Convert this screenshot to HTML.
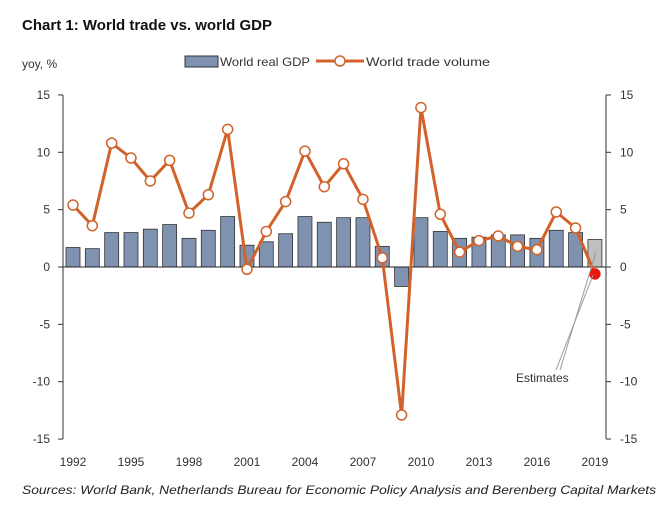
<!DOCTYPE html>
<html><head><meta charset="utf-8"><style>
body{margin:0;background:#fff;width:668px;height:514px;overflow:hidden;font-family:"Liberation Sans",sans-serif}
svg{position:absolute;left:0;top:0}
</style></head><body>
<svg width="668" height="514" id="c">
<text x="22" y="30" font-size="15" font-weight="bold" fill="#111" textLength="250" lengthAdjust="spacingAndGlyphs">Chart 1: World trade vs. world GDP</text>
<text x="22" y="68" font-size="12" fill="#333">yoy, %</text>
<g>
<rect x="185" y="56" width="33" height="11" fill="#7f93b0" stroke="#333"/>
<text x="220" y="66" font-size="12" fill="#333" textLength="90" lengthAdjust="spacingAndGlyphs">World real GDP</text>
<line x1="316" y1="61" x2="364" y2="61" stroke="#d2622a" stroke-width="3"/>
<circle cx="340" cy="61" r="5" fill="#fff" stroke="#d2622a" stroke-width="1.5"/>
<text x="366" y="66" font-size="12" fill="#333" textLength="124" lengthAdjust="spacingAndGlyphs">World trade volume</text>
</g>
<g id="plot"></g>
<text x="516" y="382" font-size="12" fill="#333">Estimates</text>
<line x1="556" y1="370" x2="593" y2="275" stroke="#999"/>
<line x1="560" y1="370" x2="596" y2="252" stroke="#999"/>
<text x="22" y="494" font-size="12" font-style="italic" fill="#222" textLength="634" lengthAdjust="spacingAndGlyphs">Sources: World Bank, Netherlands Bureau for Economic Policy Analysis and Berenberg Capital Markets</text>
</svg>
<script>
const years=[1992,1993,1994,1995,1996,1997,1998,1999,2000,2001,2002,2003,2004,2005,2006,2007,2008,2009,2010,2011,2012,2013,2014,2015,2016,2017,2018,2019];
const gdp=[1.7,1.6,3.0,3.0,3.3,3.7,2.5,3.2,4.4,1.9,2.2,2.9,4.4,3.9,4.3,4.3,1.8,-1.7,4.3,3.1,2.5,2.6,2.8,2.8,2.5,3.2,3.0,2.4];
const trade=[5.4,3.6,10.8,9.5,7.5,9.3,4.7,6.3,12.0,-0.2,3.1,5.7,10.1,7.0,9.0,5.9,0.8,-12.9,13.9,4.6,1.3,2.3,2.7,1.8,1.5,4.8,3.4,-0.6];
const yTicks=[15,10,5,0,-5,-10,-15];
const xLabels=[1992,1995,1998,2001,2004,2007,2010,2013,2016,2019];
const NS="http://www.w3.org/2000/svg",g=document.getElementById('plot');
const x=i=>73+i*19.33, y=v=>267-v*11.47;
function el(t,a){const e=document.createElementNS(NS,t);for(const k in a)e.setAttribute(k,a[k]);g.appendChild(e);return e;}
let e;
e=el('line',{x1:63,y1:y(15),x2:63,y2:y(-15),stroke:'#333'});


e=el('line',{x1:606,y1:y(15),x2:606,y2:y(-15),stroke:'#333'});


yTicks.forEach(v=>{
 el('line',{x1:58,y1:y(v),x2:63,y2:y(v),stroke:'#333'});
 el('line',{x1:606,y1:y(v),x2:611,y2:y(v),stroke:'#333'});
 e=el('text',{x:50,y:y(v)+4,'font-size':12,'text-anchor':'end',fill:'#333'});e.textContent=v;
 
 
 e=el('text',{x:620,y:y(v)+4,'font-size':12,fill:'#333'});e.textContent=v;
 
 
});
years.forEach((yr,i)=>{
 const v=gdp[i];
 e=el('rect',{x:x(i)-7,y:Math.min(y(v),y(0)),width:14,height:Math.abs(y(v)-y(0)),fill:i==years.length-1?'#bfbfbf':'#7f93b0',stroke:'#333','stroke-width':0.8});
 
 
});
el('line',{x1:63,y1:y(0),x2:606,y2:y(0),stroke:'#222'});
xLabels.forEach(yr=>{
 const i=years.indexOf(yr);
 e=el('text',{x:x(i),y:466,'font-size':12,'text-anchor':'middle',fill:'#333'});e.textContent=yr;
 
 
});
e=el('polyline',{points:trade.map((v,i)=>x(i)+','+y(v)).join(' '),fill:'none',stroke:'#d2622a','stroke-width':3});


trade.forEach((v,i)=>{
 const last=i==trade.length-1;
 e=el('circle',{cx:x(i),cy:y(v),r:5,fill:last?'#e8170f':'#fff',stroke:last?'#e8170f':'#d2622a','stroke-width':1.5});
 
 
});
</script>
</body></html>
